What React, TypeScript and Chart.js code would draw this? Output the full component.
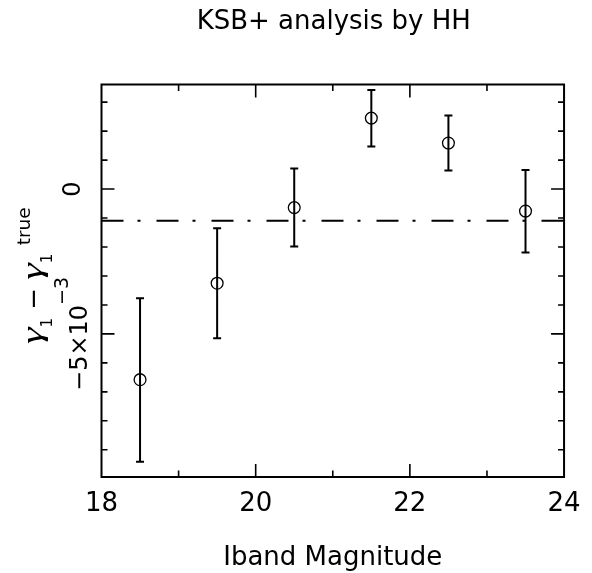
import { useEffect, useRef } from 'react';
import { Chart, registerables } from 'chart.js';

Chart.register(...registerables);

// Iband magnitude bins and shear offset (gamma1 - gamma1 true)
const magnitudes = [18.5, 19.5, 20.5, 21.5, 22.5, 23.5];
const shearOffsets = [-0.00658, -0.00325, -0.00064, 0.00245, 0.00159, -0.00076];
const errorLow = [-0.00941, -0.00515, -0.00198, 0.00147, 0.00064, -0.00219];
const errorHigh = [-0.00377, -0.00135, 0.00071, 0.00342, 0.00254, 0.00066];

// mean offset, dash-dot line
const meanLineX = [18, 24];
const meanLineY = [-0.00109, -0.00109];

const xTickLabels = ['18', '20', '22', '24'];
const yTickValues = [0, -0.005];
const yTickMantissa = ['0', '\u22125\u00d710'];
const yTickExponent = ['', '\u22123'];

const FONT = "'DejaVu Sans', sans-serif";
const GREEK = "'Liberation Serif', serif";

type Run = { text: string; size: number; rise?: number; stretch?: number; family?: string; style?: string };

// draws a run of text turned 90 degrees (reading bottom to top), centred on cy
function drawVerticalRuns(ctx: CanvasRenderingContext2D, runs: Run[], baseX: number, cy: number) {
  ctx.save();
  ctx.translate(baseX, cy);
  ctx.rotate(-Math.PI / 2);
  ctx.fillStyle = '#000';
  ctx.textAlign = 'left';
  ctx.textBaseline = 'alphabetic';
  const fontOf = (r: Run) => `${r.style || ''} ${r.size}px ${r.family || FONT}`.trim();
  const widths = runs.map((r) => {
    ctx.font = fontOf(r);
    return ctx.measureText(r.text).width * (r.stretch || 1);
  });
  let pos = -widths.reduce((a, b) => a + b, 0) / 2;
  runs.forEach((r, i) => {
    ctx.font = fontOf(r);
    ctx.save();
    ctx.translate(pos, -(r.rise || 0));
    ctx.scale(r.stretch || 1, 1);
    ctx.fillText(r.text, 0, 0);
    ctx.restore();
    pos += widths[i];
  });
  ctx.restore();
}

const errorBarPlugin = {
  id: 'errorBars',
  afterDatasetsDraw(chart: Chart) {
    const { ctx, scales } = chart;
    const x = scales.x;
    const y = scales.y;
    ctx.save();
    ctx.strokeStyle = '#000';
    ctx.lineWidth = 2;
    ctx.beginPath();
    magnitudes.forEach((m, i) => {
      const px = x.getPixelForValue(m);
      const top = y.getPixelForValue(errorHigh[i]);
      const bot = y.getPixelForValue(errorLow[i]);
      ctx.moveTo(px, top);
      ctx.lineTo(px, bot);
      ctx.moveTo(px - 4, top);
      ctx.lineTo(px + 4, top);
      ctx.moveTo(px - 4, bot);
      ctx.lineTo(px + 4, bot);
    });
    ctx.stroke();
    ctx.restore();
  },
};

const framePlugin = {
  id: 'pgFrame',
  afterDraw(chart: Chart) {
    const { ctx, chartArea: a, scales } = chart;
    const x = scales.x;
    const y = scales.y;
    ctx.save();
    ctx.strokeStyle = '#000';
    ctx.lineWidth = 1.6;
    ctx.beginPath();
    x.ticks.forEach((t) => {
      const v = t.value;
      if (v <= x.min || v >= x.max) return;
      const px = x.getPixelForValue(v);
      const len = Math.round(v) % 2 === 0 ? 13 : 6.5;
      ctx.moveTo(px, a.bottom);
      ctx.lineTo(px, a.bottom - len);
      ctx.moveTo(px, a.top);
      ctx.lineTo(px, a.top + len);
    });
    y.ticks.forEach((t) => {
      const v = t.value;
      const k = v / 0.001;
      if (Math.abs(k - Math.round(k)) > 1e-6) return;
      if (v <= y.min || v >= y.max) return;
      const py = y.getPixelForValue(v);
      const len = Math.round(k) % 5 === 0 ? 13 : 6;
      ctx.moveTo(a.left, py);
      ctx.lineTo(a.left + len, py);
      ctx.moveTo(a.right, py);
      ctx.lineTo(a.right - len, py);
    });
    ctx.stroke();
    ctx.lineWidth = 2;
    ctx.strokeRect(a.left, a.top, a.right - a.left, a.bottom - a.top);
    ctx.restore();

    // y tick labels, written sideways with a superscript exponent
    yTickValues.forEach((v, i) => {
      const py = y.getPixelForValue(v);
      const runs: Run[] = [{ text: yTickMantissa[i], size: 24 }];
      if (yTickExponent[i]) runs.push({ text: yTickExponent[i], size: 19, rise: 19 });
      drawVerticalRuns(ctx, runs, a.left - (i === 0 ? 21.5 : 14.5), py);
    });

    // y axis title: gamma_1 - gamma_1^true
    const mid = (a.top + a.bottom) / 2 - 5;
    drawVerticalRuns(
      ctx,
      [
        { text: '\u03b3', size: 30, stretch: 1.4, family: GREEK, style: 'italic' },
        { text: '1', size: 15, rise: -10 },
        { text: ' \u2212 ', size: 26 },
        { text: '\u03b3', size: 30, stretch: 1.4, family: GREEK, style: 'italic' },
        { text: '1', size: 15, rise: -10 },
        { text: ' ', size: 26 },
        { text: 'true', size: 18.5, rise: 12 },
      ],
      a.left - 60,
      mid
    );
  },
};

const ShearChart = () => {
  const chartRef = useRef<HTMLCanvasElement | null>(null);
  const chartInstance = useRef<Chart | null>(null);

  useEffect(() => {
    if (!chartRef.current) return;
    const ctx = chartRef.current.getContext('2d');
    if (!ctx) return;

    if (chartInstance.current) {
      chartInstance.current.destroy();
    }

    chartInstance.current = new Chart(ctx, {
      type: 'scatter',
      data: {
        datasets: [
          {
            data: magnitudes.map((m, i) => ({ x: m, y: shearOffsets[i] })),
            pointStyle: 'circle',
            pointRadius: 5.9,
            pointBorderWidth: 1.3,
            pointBorderColor: '#000',
            pointBackgroundColor: 'rgba(0,0,0,0)',
            showLine: false,
          },
          {
            type: 'line',
            data: meanLineX.map((m, i) => ({ x: m, y: meanLineY[i] })),
            borderColor: '#000',
            borderWidth: 2,
            borderDash: [22, 14, 3, 16],
            borderCapStyle: 'butt',
            pointRadius: 0,
            fill: false,
          },
        ],
      },
      options: {
        responsive: true,
        maintainAspectRatio: false,
        animation: false,
        layout: {
          // left padding keeps the title centred over the plot box
          padding: { top: 0, right: 26, bottom: 0, left: 101.5 },
        },
        plugins: {
          legend: { display: false },
          tooltip: { enabled: false },
          title: {
            display: true,
            text: 'KSB+ analysis by HH',
            color: '#000',
            font: { family: FONT, size: 26, weight: 'normal' },
            padding: { top: 7, bottom: 46.3 },
          },
        },
        scales: {
          x: {
            type: 'linear',
            min: 18,
            max: 24,
            grid: { display: false, drawTicks: false },
            border: { display: false },
            ticks: {
              stepSize: 1,
              padding: 11.4,
              color: '#000',
              maxRotation: 0,
              autoSkip: false,
              font: { family: FONT, size: 26 },
              callback: (value) => (xTickLabels.includes(String(value)) ? String(value) : ''),
            },
            title: {
              display: true,
              text: 'Iband Magnitude',
              color: '#000',
              font: { family: FONT, size: 26 },
              padding: { top: 0, bottom: -1 },
            },
            afterFit: (scale) => {
              scale.height = 96;
            },
          },
          y: {
            type: 'linear',
            min: -0.00994,
            max: 0.00361,
            grid: { display: false, drawTicks: false },
            border: { display: false },
            ticks: { display: false, stepSize: 0.001 },
            afterFit: (scale) => {
              scale.width = 0;
            },
          },
        },
      },
      plugins: [errorBarPlugin, framePlugin],
    });

    return () => {
      if (chartInstance.current) {
        chartInstance.current.destroy();
        chartInstance.current = null;
      }
    };
  }, []);

  return <canvas ref={chartRef} />;
};

export default function App() {
  return (
    <div style={{ position: 'fixed', left: 0, top: 0, width: 592, height: 573, background: '#fff' }}>
      <ShearChart />
    </div>
  );
}
